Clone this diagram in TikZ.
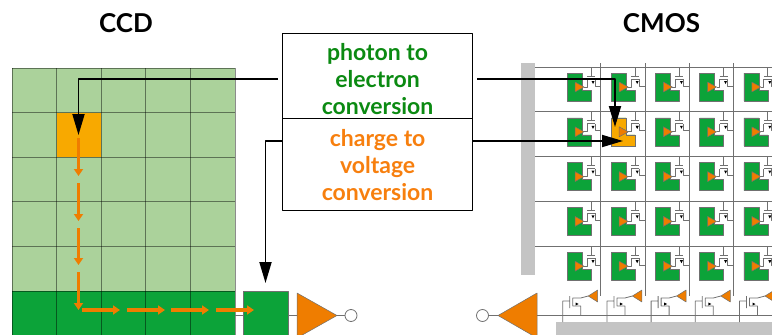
\documentclass[tikz,border=0pt]{standalone}
\usepackage{fontspec}
\setmainfont{Lato}
\usetikzlibrary{arrows.meta}
\definecolor{cellgreen}{HTML}{0CA339}
\definecolor{lightgreen}{HTML}{ABD29B}
\definecolor{cellorange}{HTML}{F8A900}
\definecolor{amporange}{HTML}{EF7D00}
\definecolor{textgreen}{HTML}{0B8A12}
\definecolor{textorange}{HTML}{F77F0E}
\definecolor{wiregray}{HTML}{707070}
\definecolor{bargray}{HTML}{C4C4C4}
\tikzset{
	wire/.style={draw=wiregray,line width=.8pt},
	amp/.style={fill=amporange,draw=wiregray,line width=.5pt},
	callout/.style={draw=black,line width=1.8pt},
	charge/.style={draw=amporange,line width=3.5pt,-{Triangle[length=7pt,width=9pt]}},
	textbox/.style={draw=black,line width=1.2pt,minimum width=190pt,font=\fontsize{23}{27}\selectfont\bfseries,align=center,inner sep=0pt},
	title/.style={font=\fontsize{26}{30}\selectfont\bfseries},
	pixelcell/.pic={
		\path[pic actions,draw=wiregray,line width=.5pt] (0,0)--(15,0)--(15,17)--(24,17)--(24,28)--(0,28)--cycle;
		\path[amp] (8,9)--(17,14)--(8,19)--cycle;
		\draw[wire] (24,-6)--(24,3) (20,3)--(28,3) (20,6)--(28,6) (17,14)--(20,14)--(20,6) (28,6)--(28,13)--(33.7,13);
		\fill[black] (24.5,8)--(27.5,8)--(26,11)--cycle;
	},
	readout/.pic={
		\path[amp] (-3,-6)--(-12.5,0)--(-3,6)--cycle;
		\draw[wire] (-12.5,0)--(-20,2)--(-28,2)--(-28,10)--(-20,10)--(-20,19) (-31,0)--(-31,12) (-31,5)--(-38,5)--(-38,26);
		\fill[black] (-25,6.5)--(-25,9.5)--(-22,8)--cycle;
	}
}
\begin{document}
\begin{tikzpicture}[x=1pt,y=-1pt,line join=round]
	\useasboundingbox (0,0) rectangle (772,335);
	\clip (0,0) rectangle (772,335);
	\path
	(78.5,135) coordinate (A)
	(615,127) coordinate (B)
	(265.5,283) coordinate (C)
	(623,141) coordinate (D)
	(278,79) coordinate (E)
	(477,79) coordinate (F)
	;
	% CCD
	\fill[lightgreen] (12,68) rectangle (235,291);
	\fill[cellgreen] (12,291) rectangle (235,340);
	\fill[cellorange] (56.6,112.6) rectangle (101.2,157.2);
	\foreach \x in {12,56.6,101.2,145.8,190.4,235}
	\draw[black,opacity=.45,line width=.8pt] (\x,68)--(\x,340);
	\foreach \y in {68,112.6,157.2,201.8,246.4,291}
	\draw[black,opacity=.45,line width=.8pt] (12,\y)--(235,\y);
	\draw[wire] (235,315.5)--(297,315.5);
	\node[minimum width=45pt,minimum height=50pt,anchor=north west,fill=cellgreen,draw=wiregray,line width=.5pt,inner sep=0pt] (outbox) at (243,291) {};
	\path[amp] (297,293)--(337,315.5)--(297,338)--cycle;
	\node[circle,draw=wiregray,line width=.8pt,minimum size=12pt,inner sep=0pt] (ccdout) at (351,315.5) {};
	\draw[wire] (337,315.5)--(ccdout);
	\foreach \a/\b in {138/176,183/221,228/265,272/310}
	\draw[charge] (78.5,\a)--(78.5,\b);
	\foreach \a/\b in {82/120,127/165,171/209,216/254}
	\draw[charge] (\a,310)--(\b,310);
	% CMOS
	\fill[bargray] (521,63) rectangle (535,275);
	\fill[bargray] (556,322) rectangle (772,340);
	\foreach \j in {0,...,4}
	\draw[wire] (535,67+\j*44.8)--(772,67+\j*44.8);
	\foreach \i in {0,...,4}
	\draw[wire] (600.7+\i*44.2,63)--(600.7+\i*44.2,296);
	\draw[wire] (537,315.5)--(772,315.5);
	\foreach \i in {0,...,4}
	\foreach \j in {0,...,4}
	\pic[fill=cellgreen] at (567+\i*44.2,73+\j*44.8) {pixelcell};
	\pic[fill=cellorange] at (611.2,117.8) {pixelcell};
	\foreach \i in {0,...,4}
	\pic at (600.7+\i*44.2,296) {readout};
	\path[amp] (537,293)--(498,315.5)--(537,338)--cycle;
	\node[circle,draw=wiregray,line width=.8pt,minimum size=12pt,inner sep=0pt] (cmosout) at (482.5,315.5) {};
	\draw[wire] (498,315.5)--(cmosout);
	% titles
	\node[title] (ccdtitle) at (126,23) {CCD};
	\node[title] (cmostitle) at (661.5,23) {CMOS};
	% boxes
	\node[textbox,minimum height=85pt,text=textgreen,anchor=north west] (photon) at (282,33) {\rule{0pt}{23pt}photon to\\electron\\conversion};
	\node[textbox,minimum height=92pt,text=textorange,anchor=north west] (voltage) at (282,118) {charge to\\voltage\\conversion};
	% arrows
	\tikzset{>={Triangle[length=21pt,width=12pt]}}
	\draw[callout,->] (E)-|(A);
	\draw[callout,->] (F)-|(B);
	\draw[callout,->] (voltage.west|-0,141)-|(C);
	\draw[callout,->] (voltage.east|-0,141)--(D);
\end{tikzpicture}
\end{document}
